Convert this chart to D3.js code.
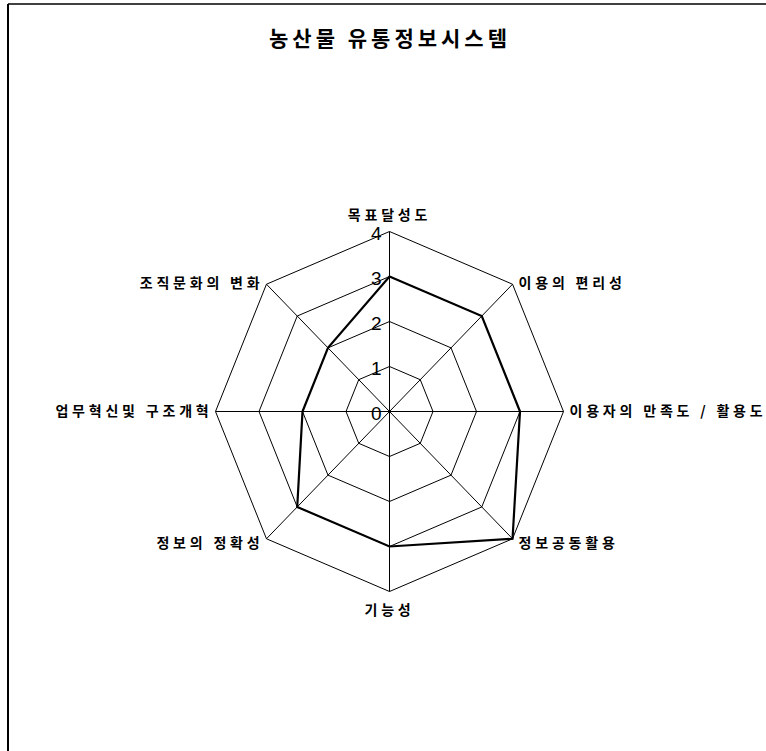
<!DOCTYPE html>
<html>
<head>
<meta charset="utf-8">
<script src="https://cdn.jsdelivr.net/npm/d3@7"></script>
<style>
  body { margin: 0; background: #fff; }
  svg { display: block; }
  .title { font-family: "Noto Sans CJK KR", sans-serif; font-weight: bold; font-size: 21px; letter-spacing: 4px; }
  .axis-label { font-family: "Noto Sans CJK KR", sans-serif; font-weight: bold; font-size: 14px; letter-spacing: 3.8px; }
  .tick-label { font-family: "Liberation Sans", Arial, sans-serif; font-size: 19px; }
  .grid { fill: none; stroke: #000; stroke-width: 1; }
  .spoke { stroke: #000; stroke-width: 1; }
  .series { fill: none; stroke: #000; stroke-width: 2.2; stroke-linejoin: miter; }
</style>
</head>
<body>
<svg></svg>
<script>
const WIDTH = 766,
  HEIGHT = 751;
const center = { x: 389.5, y: 411.5 };

// chart data
const title = "농산물 유통정보시스템";
const categories = [
  "목표달성도",
  "이용의 편리성",
  "이용자의 만족도 / 활용도",
  "정보공동활용",
  "기능성",
  "정보의 정확성",
  "업무혁신및 구조개혁",
  "조직문화의 변화"
];
const values = [3, 3, 3, 4, 3, 3, 2, 2];
const ticks = [0, 1, 2, 3, 4];

const svg = d3.select("svg").attr("width", WIDTH).attr("height", HEIGHT);

// frame (left and top edges only, like the scan)
svg.append("line")
  .attr("x1", 8).attr("y1", 4).attr("x2", 8).attr("y2", HEIGHT)
  .attr("stroke", "#000").attr("stroke-width", 2);
svg.append("line")
  .attr("x1", 8).attr("y1", 4).attr("x2", WIDTH).attr("y2", 4)
  .attr("stroke", "#000").attr("stroke-width", 1.5);

svg.append("text")
  .attr("class", "title")
  .attr("x", 390)
  .attr("y", 46)
  .attr("text-anchor", "middle")
  .text(title);

const viewport = svg
  .append("g")
  .attr("transform", "translate(" + [center.x, center.y] + ")");

// radius scales (the scan is slightly squashed horizontally)
const rx = d3.scaleLinear().domain([0, 4]).range([0, 174]);
const ry = d3.scaleLinear().domain([0, 4]).range([0, 180]);
const angleScale = d3.scaleLinear().domain([0, categories.length]).range([0, 2 * Math.PI]);
const xScale = (i, v) => Math.sin(angleScale(i)) * rx(v);
const yScale = (i, v) => -Math.cos(angleScale(i)) * ry(v);

const ring = v => d3.range(categories.length).map(i => [xScale(i, v), yScale(i, v)]);
const line = d3.line().curve(d3.curveLinearClosed);

// grid rings
viewport.append("g")
  .selectAll("path")
  .data(ticks.filter(t => t > 0))
  .enter()
  .append("path")
  .attr("class", "grid")
  .attr("d", d => line(ring(d)));

// spokes
viewport.append("g")
  .selectAll("line")
  .data(categories)
  .enter()
  .append("line")
  .attr("class", "spoke")
  .attr("x2", (d, i) => xScale(i, 4))
  .attr("y2", (d, i) => yScale(i, 4));

// series
viewport.append("path")
  .attr("class", "series")
  .attr("d", line(values.map((v, i) => [xScale(i, v), yScale(i, v)])));

// tick labels along the top spoke
viewport.append("g")
  .selectAll("text")
  .data(ticks)
  .enter()
  .append("text")
  .attr("class", "tick-label")
  .attr("x", -8)
  .attr("y", d => yScale(0, d) + 1.5)
  .attr("dy", "0.35em")
  .attr("text-anchor", "end")
  .text(d => d);

// category labels
const labelPos = i => {
  const a = angleScale(i);
  const s = Math.sin(a), c = Math.cos(a);
  let x = xScale(i, 4), y = yScale(i, 4);
  let anchor = "middle";
  if (s > 0.01) { anchor = "start"; x += 6; }
  else if (s < -0.01) { anchor = "end"; x -= 3; }
  if (Math.abs(s) < 0.01) y += c > 0 ? -16 : 19;
  else if (c < -0.01) y += 4;
  else if (c > 0.01) y -= 1;
  return { x, y, anchor };
};

viewport.append("g")
  .selectAll("text")
  .data(categories)
  .enter()
  .append("text")
  .attr("class", "axis-label")
  .attr("x", (d, i) => labelPos(i).x)
  .attr("y", (d, i) => labelPos(i).y)
  .attr("dy", "0.35em")
  .attr("text-anchor", (d, i) => labelPos(i).anchor)
  .text(d => d);
</script>
</body>
</html>
